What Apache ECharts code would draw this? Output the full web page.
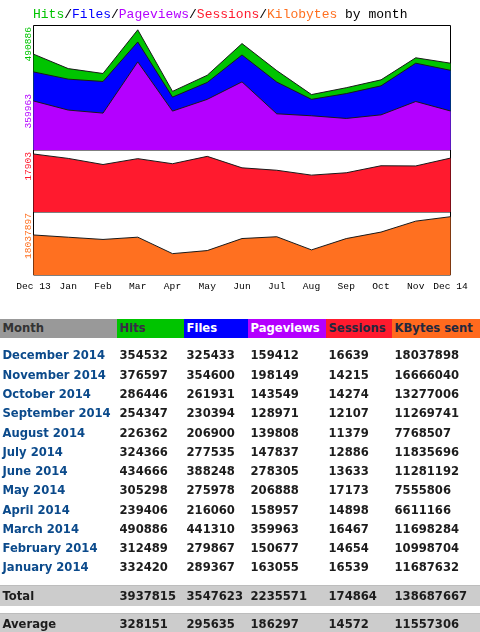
<!DOCTYPE html>
<html>
<head>
<meta charset="utf-8">
<script src="https://cdn.jsdelivr.net/npm/echarts@6/dist/echarts.min.js"></script>
<style>
html,body{margin:0;padding:0;background:#fff;width:480px;height:632px;overflow:hidden;}
#chart{position:absolute;left:0;top:0;width:480px;height:300px;}
#tbl{position:absolute;left:0;top:0;width:480px;height:632px;font-family:"DejaVu Sans",Verdana,sans-serif;font-weight:bold;font-size:11.6px;}
.row{position:absolute;left:0;width:480px;}
.cell{position:absolute;top:0;height:100%;box-sizing:border-box;padding-left:2.5px;white-space:nowrap;}
</style>
</head>
<body>
<div id="chart"></div>
<div id="tbl"></div>
<script>
// ---- data ----
var months = ['Dec 13','Jan','Feb','Mar','Apr','May','Jun','Jul','Aug','Sep','Oct','Nov','Dec 14'];
var hits     = [391500, 332420, 312489, 490886, 239406, 305298, 434666, 324366, 226362, 254347, 286446, 376597, 354532];
var files    = [319000, 289367, 279867, 441310, 216060, 275978, 388248, 277535, 206900, 230394, 261931, 354600, 325433];
var pages    = [200400, 163055, 150677, 359963, 158957, 206888, 278305, 147837, 139808, 128971, 143549, 198149, 159412];
var sessions = [17903, 16539, 14654, 16467, 14898, 17173, 13633, 12886, 11379, 12107, 14274, 14215, 16639];
var kbytes   = [12380000, 11687632, 10998704, 11698284, 6611166, 7555806, 11281192, 11835696, 7768507, 11269741, 13277006, 16666040, 18037898];
var yLabels  = ['490886', '359963', '17903', '18037897'];

var tableMonths = ['December 2014','November 2014','October 2014','September 2014','August 2014','July 2014','June 2014','May 2014','April 2014','March 2014','February 2014','January 2014'];
var tableHeaders = ['Month','Hits','Files','Pageviews','Sessions','KBytes sent'];
var totals   = [3937815, 3547623, 2235571, 174864, 138687667];
var averages = [328151, 295635, 186297, 14572, 11557306];

// ---- chart ----
var C = {hits:'#00c400', files:'#0000ff', pages:'#b400ff', sess:'#ff1a2e', kb:'#ff7020'};
var chart = echarts.init(document.getElementById('chart'), null, {renderer:'canvas'});
var mono = '"Liberation Mono","DejaVu Sans Mono",monospace';
var L = 33.5, W = 417;
function area(name, data, color, idx, z){
  return {name:name, type:'line', data:data, xAxisIndex:idx, yAxisIndex:idx, showSymbol:false, symbol:'none',
    lineStyle:{color:'#1a1a1a', width:1}, areaStyle:{color:color, opacity:1}, z:z, silent:true};
}
chart.setOption({
  animation:false,
  title:{
    left:33, top:8, padding:0,
    text:'{g|Hits}{k|/}{b|Files}{k|/}{p|Pageviews}{k|/}{r|Sessions}{k|/}{o|Kilobytes}{k| by month}',
    textStyle:{fontFamily:mono, fontSize:13, fontWeight:'normal',
      rich:{
        g:{color:C.hits, fontFamily:mono, fontSize:13},
        k:{color:'#000', fontFamily:mono, fontSize:13},
        b:{color:C.files, fontFamily:mono, fontSize:13},
        p:{color:C.pages, fontFamily:mono, fontSize:13},
        r:{color:C.sess, fontFamily:mono, fontSize:13},
        o:{color:C.kb, fontFamily:mono, fontSize:13}
      }}
  },
  grid:[
    {left:L, width:W, top:25.5, height:124.5, show:true, borderColor:'#000', borderWidth:1, backgroundColor:'#fff'},
    {left:L, width:W, top:150, height:62, show:true, borderColor:'#000', borderWidth:1, backgroundColor:'#fff'},
    {left:L, width:W, top:212, height:63, show:true, borderColor:'#000', borderWidth:1, backgroundColor:'#fff'}
  ],
  xAxis:[
    {type:'category', gridIndex:0, data:months, boundaryGap:false, show:false},
    {type:'category', gridIndex:1, data:months, boundaryGap:false, show:false},
    {type:'category', gridIndex:2, data:months, boundaryGap:false,
      axisLine:{show:false}, axisTick:{show:false}, splitLine:{show:false},
      axisLabel:{interval:0, margin:6, color:'#000', fontFamily:mono, fontSize:9.6}}
  ],
  yAxis:[
    {type:'value', gridIndex:0, min:0, max:508500, show:false, splitLine:{show:false}},
    {type:'value', gridIndex:1, min:0, max:19137, show:false, splitLine:{show:false}},
    {type:'value', gridIndex:2, min:0, max:19490000, show:false, splitLine:{show:false}}
  ],
  series:[
    area('Hits', hits, C.hits, 0, 2),
    area('Files', files, C.files, 0, 3),
    area('Pageviews', pages, C.pages, 0, 4),
    area('Sessions', sessions, C.sess, 1, 2),
    area('Kilobytes', kbytes, C.kb, 2, 2)
  ],
  graphic:[
    {type:'text', x:28.5, y:27, rotation:Math.PI/2, z:10, style:{text:yLabels[0], fill:C.hits, font:'9.6px '+mono, align:'right', verticalAlign:'middle'}},
    {type:'text', x:28.5, y:128.5, rotation:Math.PI/2, z:10, style:{text:yLabels[1], fill:C.pages, font:'9.6px '+mono, align:'left', verticalAlign:'middle'}},
    {type:'text', x:28.5, y:152, rotation:Math.PI/2, z:10, style:{text:yLabels[2], fill:C.sess, font:'9.6px '+mono, align:'right', verticalAlign:'middle'}},
    {type:'text', x:28.5, y:213, rotation:Math.PI/2, z:10, style:{text:yLabels[3], fill:C.kb, font:'9.6px '+mono, align:'right', verticalAlign:'middle'}}
  ]
});

// ---- table ----
var tbl = document.getElementById('tbl');
var colX = [0, 117, 184, 248, 326, 392, 480];
var hdrBg = ['#999999', '#00c400', '#0000ff', '#b400ff', '#ff1a2e', '#ff6a1e'];
var hdrFg = ['#333333', '#3a2a48', '#ffffff', '#ffffff', '#23283e', '#23283e'];
function makeRow(top, h, vals, opts){
  var r = document.createElement('div');
  r.className = 'row';
  r.style.top = top + 'px';
  r.style.height = h + 'px';
  r.style.lineHeight = h + 'px';
  if (opts.bg) r.style.background = opts.bg;
  if (opts.border) r.style.borderTop = opts.border;
  for (var i = 0; i < vals.length; i++){
    var c = document.createElement('div');
    c.className = 'cell';
    c.style.left = colX[i] + 'px';
    c.style.width = (colX[i+1] - colX[i]) + 'px';
    if (opts.cellBg) c.style.background = opts.cellBg[i];
    c.style.color = opts.fg ? opts.fg[i] : (i === 0 ? opts.first : '#1c1c1c');
    c.textContent = vals[i];
    r.appendChild(c);
  }
  tbl.appendChild(r);
}
makeRow(318.7, 19.3, tableHeaders, {cellBg:hdrBg, fg:hdrFg});
var n = tableMonths.length;
for (var i = 0; i < n; i++){
  var j = months.length - 1 - i;
  makeRow(346.4 + i*19.28, 19.3, [tableMonths[i], hits[j], files[j], pages[j], sessions[j], kbytes[j]], {first:'#0b4a8b'});
}
makeRow(585, 20, ['Total'].concat(totals), {bg:'#cccccc', first:'#1c1c1c', border:'1px solid #bdbdbd'});
makeRow(612.5, 20, ['Average'].concat(averages), {bg:'#cccccc', first:'#1c1c1c', border:'1px solid #bdbdbd'});
</script>
</body>
</html>
